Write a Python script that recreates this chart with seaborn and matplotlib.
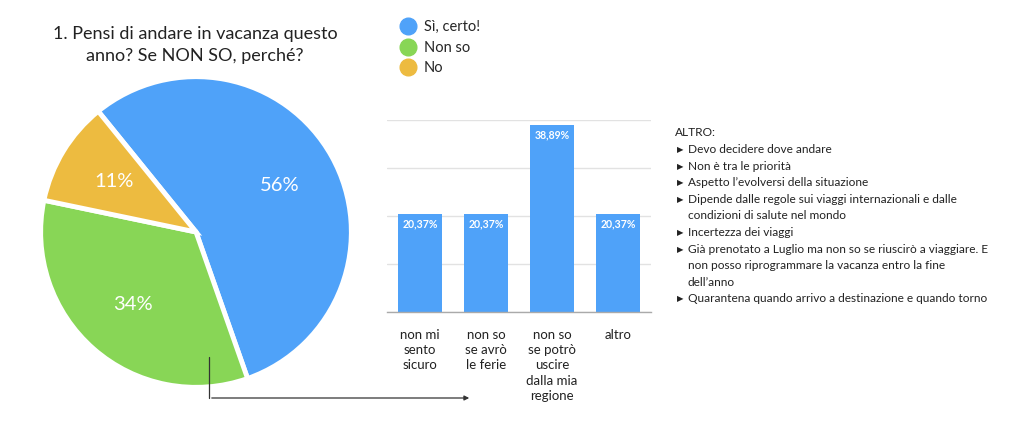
import matplotlib
matplotlib.use("Agg")
import matplotlib.pyplot as plt
from matplotlib.lines import Line2D
import seaborn as sns
import pandas as pd

# ---- data ----
pie_categories = ["Sì, certo!", "Non so", "No"]
pie_values = [56, 34, 11]
pie_labels = ["56%", "34%", "11%"]

bar_categories = ["non mi\nsento\nsicuro", "non so\nse avrò\nle ferie",
                  "non so\nse potrò\nuscire\ndalla mia\nregione", "altro"]
bar_values = [20.37, 20.37, 38.89, 20.37]
bar_labels = ["20,37%", "20,37%", "38,89%", "20,37%"]

title_text = "1. Pensi di andare in vacanza questo\nanno? Se NON SO, perché?"
altro_title = "ALTRO:"
altro_items = [
    "Devo decidere dove andare",
    "Non è tra le priorità",
    "Aspetto l’evolversi della situazione",
    "Dipende dalle regole sui viaggi internazionali e dalle\ncondizioni di salute nel mondo",
    "Incertezza dei viaggi",
    "Già prenotato a Luglio ma non so se riuscirò a viaggiare. E\nnon posso riprogrammare la vacanza entro la fine\ndell’anno",
    "Quarantena quando arrivo a destinazione e quando torno",
]

colors = ["#4fa2f9", "#88d656", "#edbb40"]
bar_color = "#4fa2f9"

sns.set_theme(style="white")
plt.rcParams["font.family"] = ["Lato", "DejaVu Sans"]

W, H = 1024, 445
fig = plt.figure(figsize=(W / 100, H / 100), dpi=100)

def fx(px):
    return px / W

def fy(py):
    return 1 - py / H

# ---- pie ----
cx, cy, box = 196, 232, 320
ax_pie = fig.add_axes([fx(cx - box / 2), fy(cy + box / 2), box / W, box / H])
wedges, texts = ax_pie.pie(
    pie_values, colors=colors, labels=pie_labels, labeldistance=0.62,
    startangle=129, counterclock=False,
    wedgeprops=dict(edgecolor="white", linewidth=3.5),
    textprops=dict(color="white", fontsize=14.5),
)
for t in texts:
    t.set_ha("center")
    t.set_va("center")
ax_pie.set_xlim(-1.03, 1.03)
ax_pie.set_ylim(-1.03, 1.03)
ax_pie.set_aspect("equal")
ax_pie.axis("off")

# title
fig.text(fx(195), fy(45), title_text, ha="center", va="center",
         fontsize=13, color="#222222", linespacing=1.4)

# legend
handles = [Line2D([], [], marker="o", ls="", markersize=12, color=c) for c in colors]
fig.legend(handles, pie_categories, loc="upper left",
           bbox_to_anchor=(fx(392), fy(13)), frameon=False, fontsize=10.5,
           handletextpad=0.5, labelspacing=0.45, borderpad=0, handlelength=1.2)

# ---- bar chart ----
left, right, top, base = 387, 651, 120, 312
ax_bar = fig.add_axes([fx(left), fy(base), (right - left) / W, (base - top) / H])
df = pd.DataFrame({"cat": bar_categories, "val": bar_values})
sns.barplot(data=df, x="cat", y="val", color=bar_color, saturation=1,
            width=0.67, ax=ax_bar)
ax_bar.set_ylim(0, 40)
ax_bar.set_yticks([0, 10, 20, 30, 40])
ax_bar.yaxis.grid(True, color="#e2e2e2", linewidth=1)
ax_bar.set_axisbelow(True)
ax_bar.tick_params(axis="y", left=False, labelleft=False)
ax_bar.tick_params(axis="x", bottom=False, pad=6)
for lbl in ax_bar.get_xticklabels():
    lbl.set_fontsize(9.5)
    lbl.set_color("#222222")
    lbl.set_linespacing(1.33)
    lbl.set_va("top")
ax_bar.set_xlabel("")
ax_bar.set_ylabel("")
for s in ["left", "right", "top"]:
    ax_bar.spines[s].set_visible(False)
ax_bar.spines["bottom"].set_color("#aaaaaa")
ax_bar.spines["bottom"].set_linewidth(1)
for p, lab in zip(ax_bar.patches, bar_labels):
    ax_bar.annotate(lab, (p.get_x() + p.get_width() / 2, p.get_height()),
                    xytext=(0, -3), textcoords="offset points",
                    ha="center", va="top", color="white", fontsize=7.6,
                    fontweight="bold")
for p in ax_bar.patches:
    p.set_edgecolor("none")

# ---- connector arrow ----
fig.add_artist(Line2D([fx(209), fx(209)], [fy(357), fy(398)],
                      transform=fig.transFigure, color="#333333", lw=0.9))
fig.add_artist(matplotlib.patches.FancyArrowPatch(
    (fx(209), fy(398)), (fx(472), fy(398)), transform=fig.transFigure,
    arrowstyle="-|>", mutation_scale=7, color="#333333", lw=0.9))

# ---- ALTRO text ----
fs = 8.6
line_h = 16.6
y = 133
fig.text(fx(675), fy(y), altro_title, ha="left", va="center", fontsize=fs, color="#222222")
y += line_h
for item in altro_items:
    fig.text(fx(677), fy(y), "▶", ha="left", va="center", fontsize=6,
             color="#222222", family="DejaVu Sans")
    for line in item.split("\n"):
        fig.text(fx(688), fy(y), line, ha="left", va="center", fontsize=fs,
                 color="#222222")
        y += line_h

fig.savefig("out.png", dpi=100, facecolor="white")
